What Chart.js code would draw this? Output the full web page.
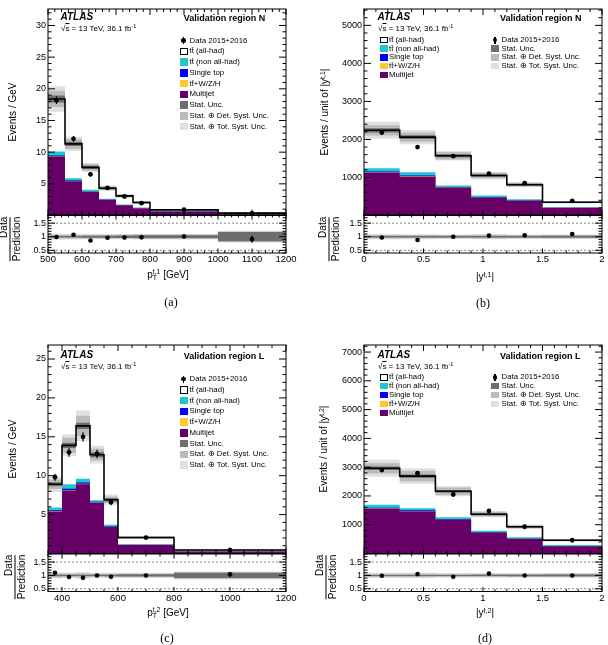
<!DOCTYPE html>
<html>
<head>
<meta charset="utf-8">
<script src="https://cdn.jsdelivr.net/npm/chart.js@4.4.1/dist/chart.umd.min.js"></script>
<style>
  body { margin: 0; width: 608px; height: 645px; position: relative; background: #fff; overflow: hidden;
         font-family: "Liberation Sans", Arial, Helvetica, sans-serif; }
  canvas { position: absolute; }
  .t { position: absolute; white-space: nowrap; color: #000; line-height: 1; }
  .t sup { font-size: 0.7em; line-height: 0; vertical-align: 0.5em; }
  .ss { display: inline-block; vertical-align: -0.32em; font-size: 0.68em; line-height: 0.95; text-align: left; }
  .ss span { display: block; }
</style>
</head>
<body>
<script>
// ---- (a) validation region N, leading top pT ----
const edgesA = [500, 550, 600, 650, 700, 750, 800, 1000, 1200];
const multijetA = [9.3, 5.4, 3.7, 2.45, 1.6, 1.1, 0.6, 0.15];
const ttVA = [0.06, 0.04, 0.03, 0.02, 0.015, 0.01, 0.005, 0.003];
const singleTopA = [0.12, 0.08, 0.05, 0.04, 0.03, 0.02, 0.01, 0.005];
const ttNonA = [0.62, 0.38, 0.27, 0.14, 0.1, 0.12, 0.08, 0.04];
const ttAllA = [8.3, 5.4, 3.55, 1.65, 1.35, 0.8, 0.2, 0.18];
const dataA = [18.2, 12.1, 6.5, 4.35, 3.0, 1.95, 0.92, 0.35];
const dataErrA = [0.6, 0.45, 0.35, 0.3, 0.25, 0.2, 0.07, 0.06];
const ratioA = [0.99, 1.07, 0.86, 0.96, 0.97, 0.98, 1.01, 0.91];
const ratioErrA = [0.03, 0.04, 0.05, 0.06, 0.07, 0.08, 0.07, 0.13];
const statA = [0.03, 0.03, 0.035, 0.04, 0.045, 0.05, 0.05, 0.17];
const detA = [0.07, 0.07, 0.07, 0.07, 0.07, 0.08, 0.08, 0.19];
const totA = [0.11, 0.1, 0.09, 0.09, 0.09, 0.1, 0.1, 0.21];
const yTicksA = [5, 10, 15, 20, 25, 30];
const xTicksA = [500, 600, 700, 800, 900, 1000, 1100, 1200];

// ---- (b) validation region N, leading top |y| ----
const edgesB = [0, 0.3, 0.6, 0.9, 1.2, 1.5, 2.0];
const multijetB = [1120, 1020, 730, 465, 385, 200];
const ttVB = [10, 9, 6, 4, 3, 2];
const singleTopB = [25, 22, 15, 10, 8, 4];
const ttNonB = [90, 89, 39, 46, 34, 19];
const ttAllB = [995, 920, 780, 525, 380, 125];
const dataB = [2180, 1800, 1560, 1100, 850, 385];
const dataErrB = [45, 42, 38, 32, 28, 14];
const ratioB = [0.97, 0.88, 1.0, 1.04, 1.05, 1.1];
const ratioErrB = [0.02, 0.02, 0.025, 0.03, 0.035, 0.04];
const statB = [0.025, 0.025, 0.025, 0.03, 0.03, 0.04];
const detB = [0.06, 0.06, 0.06, 0.07, 0.06, 0.06];
const totB = [0.1, 0.09, 0.08, 0.09, 0.08, 0.08];
const yTicksB = [1000, 2000, 3000, 4000, 5000];
const xTicksB = [0, 0.5, 1, 1.5, 2];

// ---- (c) validation region L, subleading top pT ----
const edgesC = [350, 400, 450, 500, 550, 600, 800, 1200];
const multijetC = [5.4, 8.1, 8.9, 6.5, 3.4, 1.1, 0.25];
const ttVC = [0.05, 0.07, 0.07, 0.05, 0.03, 0.01, 0.003];
const singleTopC = [0.1, 0.15, 0.15, 0.1, 0.06, 0.02, 0.005];
const ttNonC = [0.35, 0.58, 0.48, 0.2, 0.21, 0.07, 0.04];
const ttAllC = [3.0, 5.0, 6.8, 5.85, 3.2, 0.85, 0.15];
const dataC = [9.8, 13.0, 15.0, 12.8, 6.6, 2.05, 0.42];
const dataErrC = [0.45, 0.55, 0.6, 0.55, 0.4, 0.1, 0.03];
const ratioC = [1.1, 0.94, 0.91, 1.0, 0.95, 1.0, 1.04];
const ratioErrC = [0.05, 0.04, 0.04, 0.045, 0.06, 0.05, 0.08];
const statC = [0.03, 0.025, 0.025, 0.025, 0.03, 0.04, 0.1];
const detC = [0.07, 0.07, 0.08, 0.06, 0.06, 0.06, 0.12];
const totC = [0.11, 0.1, 0.12, 0.09, 0.1, 0.1, 0.15];
const yTicksC = [5, 10, 15, 20, 25];
const xTicksC = [400, 600, 800, 1000, 1200];

// ---- (d) validation region L, subleading top |y| ----
const edgesD = [0, 0.3, 0.6, 0.9, 1.2, 1.5, 2.0];
const multijetD = [1550, 1460, 1165, 720, 505, 250];
const ttVD = [12, 11, 9, 5, 4, 2];
const singleTopD = [30, 28, 22, 14, 9, 5];
const ttNonD = [103, 76, 64, 51, 47, 38];
const ttAllD = [1265, 1115, 905, 575, 365, 165];
const dataD = [2900, 2790, 2050, 1480, 930, 460];
const dataErrD = [50, 50, 45, 38, 30, 18];
const ratioD = [0.99, 1.05, 0.95, 1.07, 1.0, 1.0];
const ratioErrD = [0.02, 0.02, 0.02, 0.03, 0.035, 0.04];
const statD = [0.02, 0.02, 0.02, 0.025, 0.03, 0.035];
const detD = [0.06, 0.07, 0.06, 0.06, 0.06, 0.06];
const totD = [0.1, 0.1, 0.08, 0.08, 0.08, 0.09];
const yTicksD = [1000, 2000, 3000, 4000, 5000, 6000, 7000];
const xTicksD = [0, 0.5, 1, 1.5, 2];

const ratioTicks = [0.5, 1, 1.5];

const FONT = '"Liberation Sans", Arial, Helvetica, sans-serif';
const PURPLE = '#660066', CYAN = '#1ec8c8', BLUE = '#0000ff', YELLOW = '#ffc82e';
const GRAY_STAT = '#6e6e6e', GRAY_DET = '#bbbbbb', GRAY_TOT = '#e0e0e0';
const STACK_COLORS = [PURPLE, YELLOW, BLUE, CYAN, '#ffffff'];

Chart.defaults.font.family = FONT;
Chart.defaults.color = '#000';

const panels = [
  { L: 48, R: 286, T: 8.5, B: 215, RB: 253, edges: edgesA,
    comps: [multijetA, ttVA, singleTopA, ttNonA, ttAllA],
    data: dataA, dataErr: dataErrA, ratio: ratioA, ratioErr: ratioErrA,
    stat: statA, det: detA, tot: totA, yMax: 32.6, yTicks: yTicksA, yMinor: 1,
    xTicks: xTicksA, xMinor: 20 },
  { L: 364, R: 602, T: 8.5, B: 215, RB: 253, edges: edgesB,
    comps: [multijetB, ttVB, singleTopB, ttNonB, ttAllB],
    data: dataB, dataErr: dataErrB, ratio: ratioB, ratioErr: ratioErrB,
    stat: statB, det: detB, tot: totB, yMax: 5430, yTicks: yTicksB, yMinor: 200,
    xTicks: xTicksB, xMinor: 0.1 },
  { L: 48, R: 286, T: 345, B: 553.5, RB: 591, edges: edgesC,
    comps: [multijetC, ttVC, singleTopC, ttNonC, ttAllC],
    data: dataC, dataErr: dataErrC, ratio: ratioC, ratioErr: ratioErrC,
    stat: statC, det: detC, tot: totC, yMax: 26.8, yTicks: yTicksC, yMinor: 1,
    xTicks: xTicksC, xMinor: 50 },
  { L: 364, R: 602, T: 345, B: 553.5, RB: 591, edges: edgesD,
    comps: [multijetD, ttVD, singleTopD, ttNonD, ttAllD],
    data: dataD, dataErr: dataErrD, ratio: ratioD, ratioErr: ratioErrD,
    stat: statD, det: detD, tot: totD, yMax: 7245, yTicks: yTicksD, yMinor: 200,
    xTicks: xTicksD, xMinor: 0.1 }
];

// histogram helpers
function steps(edges, vals) {
  const pts = vals.map((v, i) => ({ x: edges[i], y: v }));
  pts.push({ x: edges[edges.length - 1], y: vals[vals.length - 1] });
  return pts;
}
function cumulate(comps) {
  const out = [];
  let run = comps[0].map(() => 0);
  comps.forEach(c => { run = run.map((v, i) => v + c[i]); out.push(run); });
  return out;
}
function stepDs(data, extra) {
  return Object.assign({ data, stepped: true, pointRadius: 0, pointHitRadius: 0, borderWidth: 0,
    borderColor: 'rgba(0,0,0,0)', fill: false, tension: 0 }, extra);
}
function pointsDs(xs, ys, errs, r) {
  return { data: xs.map((x, i) => ({ x, y: ys[i] })), errs, showLine: false, pointRadius: r,
    pointBackgroundColor: '#000', pointBorderWidth: 0, pointHitRadius: 0 };
}

// frame, inner ticks, dotted reference lines and error bars
const atlasFrame = {
  id: 'atlasFrame',
  beforeDatasetsDraw(chart, args, o) {
    if (!o.dotted) return;
    const { ctx, chartArea: a, scales: { y } } = chart;
    ctx.save();
    ctx.setLineDash([2, 2]);
    ctx.strokeStyle = '#666';
    ctx.lineWidth = 0.8;
    o.dotted.forEach(v => {
      const py = y.getPixelForValue(v);
      ctx.beginPath(); ctx.moveTo(a.left, py); ctx.lineTo(a.right, py); ctx.stroke();
    });
    ctx.restore();
  },
  afterDatasetsDraw(chart) {
    const { ctx, scales: { y } } = chart;
    ctx.save();
    ctx.strokeStyle = '#000';
    ctx.lineWidth = 1.2;
    chart.data.datasets.forEach((ds, i) => {
      if (!ds.errs) return;
      const meta = chart.getDatasetMeta(i);
      meta.data.forEach((pt, j) => {
        const v = ds.data[j].y, e = ds.errs[j];
        ctx.beginPath();
        ctx.moveTo(pt.x, y.getPixelForValue(v + e));
        ctx.lineTo(pt.x, y.getPixelForValue(v - e));
        ctx.stroke();
      });
    });
    ctx.restore();
  },
  afterDraw(chart, args, o) {
    const { ctx, chartArea: a, scales: { x, y } } = chart;
    ctx.save();
    ctx.strokeStyle = '#000';
    ctx.lineWidth = 1;
    ctx.strokeRect(a.left, a.top, a.right - a.left, a.bottom - a.top);
    ctx.beginPath();
    const tickRun = (scale, majors, step, horiz, lens) => {
      const n0 = Math.ceil(scale.min / step - 1e-6), n1 = Math.floor(scale.max / step + 1e-6);
      for (let k = n0; k <= n1; k++) {
        const v = k * step;
        const len = majors.some(m => Math.abs(m - v) < step * 1e-3) ? lens[0] : lens[1];
        const p = scale.getPixelForValue(v);
        if (horiz) {
          ctx.moveTo(p, a.bottom); ctx.lineTo(p, a.bottom - len);
          ctx.moveTo(p, a.top); ctx.lineTo(p, a.top + len);
        } else {
          ctx.moveTo(a.left, p); ctx.lineTo(a.left + len, p);
          ctx.moveTo(a.right, p); ctx.lineTo(a.right - len, p);
        }
      }
    };
    tickRun(x, o.xMajors, o.xMinor, true, o.xLen);
    tickRun(y, o.yMajors, o.yMinor, false, o.yLen);
    ctx.stroke();
    ctx.restore();
  }
};

function makeCanvas(left, top, w, h) {
  const c = document.createElement('canvas');
  c.width = w; c.height = h;
  c.style.left = left + 'px'; c.style.top = top + 'px';
  c.style.width = w + 'px'; c.style.height = h + 'px';
  document.body.appendChild(c);
  return c;
}

const AXW = 40, PADR = 14, PADT = 10;

function axisOpts(min, max, ticks, show, size, fitSize, horiz) {
  return {
    type: 'linear', min, max,
    grid: { display: false, drawTicks: false },
    border: { display: false },
    ticks: { display: show, autoSkip: false, maxRotation: 0, padding: horiz ? 1 : 2,
      font: { size, family: FONT }, color: '#000', callback: v => String(v) },
    afterBuildTicks: s => { s.ticks = ticks.map(v => ({ value: v })); },
    afterFit: s => { if (horiz) s.height = fitSize; else s.width = fitSize; }
  };
}

panels.forEach(p => {
  const cum = cumulate(p.comps);
  const total = cum[cum.length - 1];
  const centers = p.edges.slice(0, -1).map((e, i) => (e + p.edges[i + 1]) / 2);
  const xMin = p.edges[0], xMax = p.edges[p.edges.length - 1];
  const W = (p.R - p.L) + AXW + PADR;

  // main panel
  const mh = Math.ceil(p.B - p.T + 2 * PADT);
  const mainDs = [pointsDs(centers, p.data, p.dataErr, 2.4),
    stepDs(steps(p.edges, total), { borderColor: '#000', borderWidth: 1.6 })];
  [[p.stat, GRAY_STAT], [p.det, GRAY_DET], [p.tot, GRAY_TOT]].forEach(([rel, col]) => {
    mainDs.push(stepDs(steps(p.edges, total.map((t, i) => t * (1 + rel[i]))), { fill: '+1', backgroundColor: col }));
    mainDs.push(stepDs(steps(p.edges, total.map((t, i) => t * (1 - rel[i]))), {}));
  });
  cum.forEach((c, k) => mainDs.push(stepDs(steps(p.edges, c), { fill: 'origin', backgroundColor: STACK_COLORS[k] })));

  new Chart(makeCanvas(p.L - AXW, p.T - PADT, W, mh), {
    type: 'line',
    data: { datasets: mainDs },
    options: {
      responsive: false, animation: false, devicePixelRatio: 1, events: [],
      layout: { padding: { left: 0, right: PADR, top: PADT, bottom: mh - PADT - (p.B - p.T) } },
      scales: {
        x: axisOpts(xMin, xMax, p.xTicks, false, 9.5, 0, true),
        y: axisOpts(0, p.yMax, p.yTicks, true, 9, AXW, false)
      },
      plugins: {
        legend: { display: false }, tooltip: { enabled: false },
        filler: { drawTime: 'beforeDatasetDraw' },
        atlasFrame: { xMajors: p.xTicks, xMinor: p.xMinor, xLen: [6, 3],
          yMajors: [0].concat(p.yTicks), yMinor: p.yMinor, yLen: [7, 3.5] }
      }
    },
    plugins: [atlasFrame]
  });

  // ratio panel
  const rh = Math.ceil(p.RB - p.B + PADT + 16);
  const ratioDs = [pointsDs(centers, p.ratio, p.ratioErr, 2.3)];
  [[p.stat, GRAY_STAT], [p.det, GRAY_DET], [p.tot, GRAY_TOT]].forEach(([rel, col]) => {
    ratioDs.push(stepDs(steps(p.edges, rel.map(u => 1 + u)), { fill: '+1', backgroundColor: col }));
    ratioDs.push(stepDs(steps(p.edges, rel.map(u => 1 - u)), {}));
  });

  new Chart(makeCanvas(p.L - AXW, p.B - PADT, W, rh), {
    type: 'line',
    data: { datasets: ratioDs },
    options: {
      responsive: false, animation: false, devicePixelRatio: 1, events: [],
      layout: { padding: { left: 0, right: PADR, top: PADT, bottom: 0 } },
      scales: {
        x: axisOpts(xMin, xMax, p.xTicks, true, 9.5, rh - PADT - (p.RB - p.B), true),
        y: axisOpts(0.4, 1.8, ratioTicks, true, 9, AXW, false)
      },
      plugins: {
        legend: { display: false }, tooltip: { enabled: false },
        filler: { drawTime: 'beforeDatasetDraw' },
        atlasFrame: { xMajors: p.xTicks, xMinor: p.xMinor, xLen: [4.5, 2.5],
          yMajors: ratioTicks, yMinor: 0.1, yLen: [7, 3.5], dotted: [0.5, 1, 1.5] }
      }
    },
    plugins: [atlasFrame]
  });
});

// ---- text overlays ----
function put(html, x, y, css, mode) {
  const d = document.createElement('div');
  d.className = 't';
  d.innerHTML = html;
  d.style.cssText += css || '';
  d.style.left = x + 'px';
  d.style.top = y + 'px';
  d.style.transform = mode === 'c' ? 'translate(-50%,-50%)'
    : mode === 'r' ? 'translate(-50%,-50%) rotate(-90deg)' : 'translateY(-50%)';
  document.body.appendChild(d);
  return d;
}
function rect(x, y, w, h, fill, border) {
  const d = document.createElement('div');
  d.style.cssText = `position:absolute;left:${x}px;top:${y - h / 2}px;width:${w}px;height:${h}px;` +
    `background:${fill};box-sizing:border-box;` + (border ? 'border:1px solid #000;' : '');
  document.body.appendChild(d);
}
function dataMarker(x, y) {
  rect(x - 0.6, y, 1.2, 7, '#000');
  const d = document.createElement('div');
  d.style.cssText = `position:absolute;left:${x - 2.3}px;top:${y - 2.3}px;width:4.6px;height:4.6px;border-radius:50%;background:#000;`;
  document.body.appendChild(d);
}

const TTBAR = 't<span>t\u0304</span>';
const legendLabels = ['Data 2015+2016', TTBAR + ' (all-had)', TTBAR + ' (non all-had)', 'Single top',
  TTBAR + '+W/Z/H', 'Multijet', 'Stat. Unc.', 'Stat. \u2295 Det. Syst. Unc.', 'Stat. \u2295 Tot. Syst. Unc.'];
const legendFills = [null, '#ffffff', CYAN, BLUE, YELLOW, PURPLE, GRAY_STAT, GRAY_DET, GRAY_TOT];
const LEG = 'font-size:7.8px;';

function legendColumn(items, boxX, textX, y0, dy, boxH) {
  items.forEach((k, j) => {
    const y = y0 + j * dy;
    if (k === 0) dataMarker(boxX + 4, y);
    else rect(boxX, y, 8, boxH, legendFills[k], k === 1);
    put(legendLabels[k], textX, y, LEG);
  });
}

const SQRTS = '\u221A<span style="text-decoration:overline">s</span> = 13 TeV, 36.1 fb<sup>-1</sup>';
function atlasBlock(x, yAtlas, ySqrt, regionX, regionY, region) {
  put('ATLAS', x, yAtlas, 'font-size:10px;font-weight:bold;font-style:italic;');
  put(SQRTS, x + 0.5, ySqrt, 'font-size:8px;');
  put(region, regionX, regionY, 'font-size:9px;font-weight:bold;');
}
function ptTitle(n) {
  return 'p<span class="ss"><span>t,' + n + '</span><span>T</span></span> [GeV]';
}
function ratioTitle(cx, topEnd) {
  put('<div style="display:flex;flex-direction:column;align-items:flex-end">' +
      '<span style="padding-bottom:1px">Data</span>' +
      '<span style="border-top:0.9px solid #000;padding-top:1px">Prediction</span></div>',
      cx, topEnd + 22.5, 'font-size:10px;', 'r');
}
const CAP = 'font-size:12px;font-family:"Liberation Serif","Times New Roman",serif;';

// (a)
atlasBlock(60.5, 16.5, 29, 183.7, 17.5, 'Validation region N');
legendColumn([0, 1, 2, 3, 4, 5, 6, 7, 8], 179.5, 189.5, 40.7, 10.74, 7.5);
put('Events / GeV', 12.5, 112, 'font-size:10px;', 'r');
ratioTitle(10, 216.5);
put(ptTitle(1), 168, 275, 'font-size:10px;', 'c');
put('(a)', 171, 302, CAP, 'c');

// (b)
atlasBlock(377.5, 16.5, 29.3, 500, 17.5, 'Validation region N');
legendColumn([1, 2, 3, 4, 5], 379.5, 389, 40, 8.7, 6.5);
legendColumn([0, 6, 7, 8], 491, 501.5, 40, 8.7, 6.5);
put('Events / unit of |y<sup>t,1</sup>|', 325, 112, 'font-size:10px;', 'r');
ratioTitle(328.5, 216);
put('|y<sup>t,1</sup>|', 485, 277, 'font-size:10px;', 'c');
put('(b)', 483, 303, CAP, 'c');

// (c)
atlasBlock(60.5, 354.5, 366.7, 183.7, 355.5, 'Validation region L');
legendColumn([0, 1, 2, 3, 4, 5, 6, 7, 8], 179.5, 189.5, 379, 10.75, 7.5);
put('Events / GeV', 12.5, 449, 'font-size:10px;', 'r');
ratioTitle(15, 554);
put(ptTitle(2), 168, 613, 'font-size:10px;', 'c');
put('(c)', 167, 638, CAP, 'c');

// (d)
atlasBlock(377.5, 354.5, 366.7, 500, 356, 'Validation region L');
legendColumn([1, 2, 3, 4, 5], 379.5, 389, 377.3, 8.9, 6.5);
legendColumn([0, 6, 7, 8], 491, 501.5, 377.3, 8.9, 6.5);
put('Events / unit of |y<sup>t,2</sup>|', 324, 449, 'font-size:10px;', 'r');
ratioTitle(326, 554);
put('|y<sup>t,2</sup>|', 485, 613, 'font-size:10px;', 'c');
put('(d)', 485, 638, CAP, 'c');
</script>
</body>
</html>
